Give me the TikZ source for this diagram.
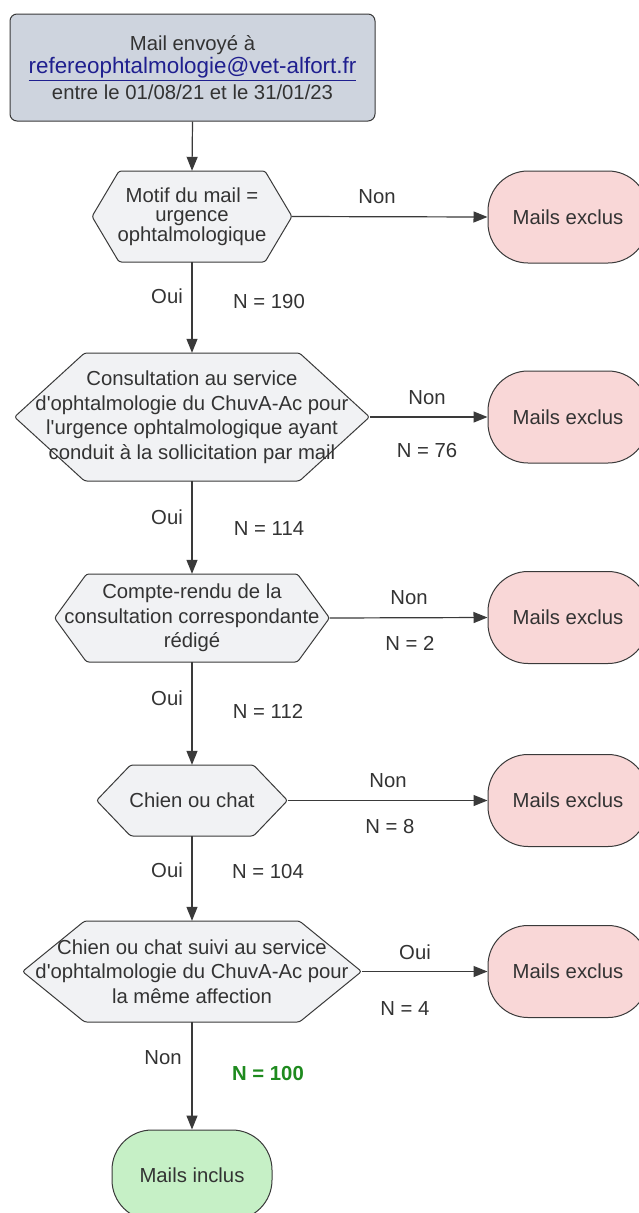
\documentclass[tikz,border=0pt]{standalone}
\usepackage{fontspec}
\setmainfont{Liberation Sans}
\usetikzlibrary{arrows.meta}
\definecolor{txt}{HTML}{333333}
\definecolor{edge}{HTML}{3A3A3A}
\definecolor{hexfill}{HTML}{F1F2F4}
\definecolor{topfill}{HTML}{CED4DE}
\definecolor{pinkfill}{HTML}{F9D7D7}
\definecolor{greenfill}{HTML}{C6F0C6}
\definecolor{mailblue}{HTML}{1F1F8F}
\definecolor{okgreen}{HTML}{1E8A1E}
\tikzset{
 base/.style={text=txt, font=\fontsize{20.3}{24.5}\selectfont},
 hexshape/.style={fill=hexfill, draw=edge, line width=1pt, rounded corners=2.5pt},
 hextext/.style={base, inner sep=0pt, align=center},
 term/.style={base, draw=edge, line width=1pt, rounded corners=40pt, minimum width=160pt, minimum height=92pt, inner sep=0pt},
 excl/.style={term, fill=pinkfill},
 incl/.style={term, fill=greenfill, minimum height=90pt},
 topbox/.style={base, draw=edge, fill=topfill, line width=1pt, rounded corners=7pt, minimum width=365pt, minimum height=107pt, align=center, inner sep=0pt},
 lbl/.style={base, inner sep=0pt},
 arr/.style={draw=edge, line width=1.2pt, -{Triangle[length=14pt,width=11pt]}},
}
% [node options]{name}{cx}{cy}{half width}{half height}{inset}{text}
\newcommand{\hexnode}[8][]{%
 \filldraw[hexshape] ({#3-#5},#4) -- ({#3-#5+#7},{#4-#6}) -- ({#3+#5-#7},{#4-#6}) -- ({#3+#5},#4) -- ({#3+#5-#7},{#4+#6}) -- ({#3-#5+#7},{#4+#6}) -- cycle;
 \node[hextext, minimum width={2*#5}, minimum height={2*#6}, #1] (#2) at (#3,#4) {#8};
}
\begin{document}
\begin{tikzpicture}[x=1pt, y=-1pt]
\useasboundingbox (0,0) rectangle (638,1213);
\fill[white] (0,0) rectangle (638,1213);

\node[topbox] (top) at (192.5,67.5) {Mail envoyé à\\[-1pt]{\fontsize{22.4}{26}\selectfont\color{mailblue}\underline{refereophtalmologie@vet-alfort.fr}}\\[1pt]entre le 01/08/21 et le 31/01/23};

\hexnode[font=\fontsize{20.3}{19.5}\selectfont]{h1}{192}{216.5}{100}{45.5}{27}{Motif du mail =\\urgence\\ophtalmologique}
\hexnode{h2}{192}{417}{177.5}{64}{70}{Consultation au service\\d\textquotesingle ophtalmologie du ChuvA-Ac pour\\l\textquotesingle urgence ophtalmologique ayant\\conduit à la sollicitation par mail}
\hexnode{h3}{192}{618}{137.5}{44}{32}{Compte-rendu de la\\consultation correspondante\\rédigé}
\hexnode{h4}{192}{800.5}{95.5}{35.5}{34}{Chien ou chat}
\hexnode{h5}{192}{971.5}{169.5}{50.5}{62}{Chien ou chat suivi au service\\d\textquotesingle ophtalmologie du ChuvA-Ac pour\\la même affection}

\node[excl] (e1) at (568,217) {Mails exclus};
\node[excl] (e2) at (568,417) {Mails exclus};
\node[excl] (e3) at (568,617.5) {Mails exclus};
\node[excl] (e4) at (568,800.5) {Mails exclus};
\node[excl] (e5) at (568,971.5) {Mails exclus};
\node[incl] (inc) at (192,1175) {Mails inclus};

\draw[arr] (top.south) -- (h1.north);
\draw[arr] (h1.south) -- (h2.north);
\draw[arr] (h2.south) -- (h3.north);
\draw[arr] (h3.south) -- (h4.north);
\draw[arr] (h4.south) -- (h5.north);
\draw[arr] (h5.south) -- (inc.north);
\draw[arr] (h1.east) -- (e1.west);
\draw[arr] (h2.east) -- (e2.west);
\draw[arr] (h3.east) -- (e3.west);
\draw[arr] (h4.east) -- (e4.west);
\draw[arr] (h5.east) -- (e5.west);

\node[lbl] (n1) at (377,197) {Non};
\node[lbl] (o1) at (167,296) {Oui};
\node[lbl] (c1) at (269,302) {N = 190};
\node[lbl] (n2) at (427,398) {Non};
\node[lbl] (x2) at (427,451) {N = 76};
\node[lbl] (o2) at (167,517) {Oui};
\node[lbl] (c2) at (269,529) {N = 114};
\node[lbl] (n3) at (409,598) {Non};
\node[lbl] (x3) at (410,643) {N = 2};
\node[lbl] (o3) at (167,698) {Oui};
\node[lbl] (c3) at (268,711) {N = 112};
\node[lbl] (n4) at (388,781) {Non};
\node[lbl] (x4) at (390,827) {N = 8};
\node[lbl] (o4) at (167,870) {Oui};
\node[lbl] (c4) at (268,872) {N = 104};
\node[lbl] (n5) at (415,952) {Oui};
\node[lbl] (x5) at (405,1009) {N = 4};
\node[lbl] (o5) at (163,1058) {Non};
\node[lbl, text=okgreen, font=\fontsize{20.3}{24.5}\selectfont\bfseries] (c5) at (268,1073) {N = 100};
\end{tikzpicture}
\end{document}
